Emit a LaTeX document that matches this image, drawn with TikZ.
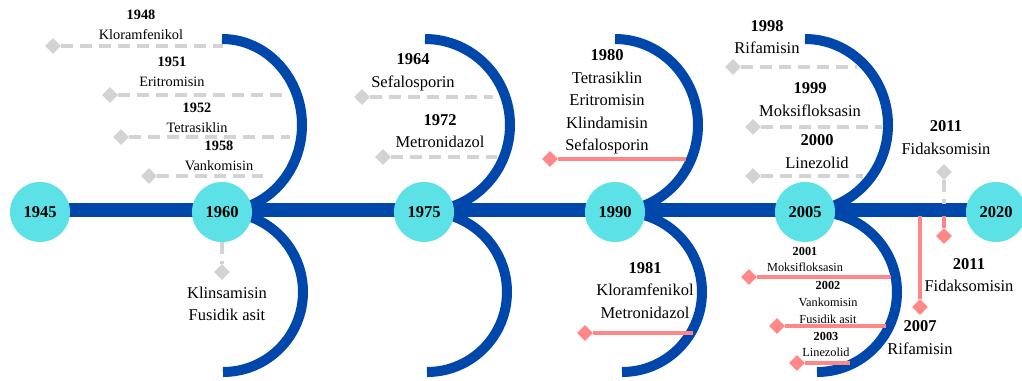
\documentclass[tikz,border=0pt]{standalone}
\usepackage{fontspec}
\setmainfont{Liberation Serif}
\usetikzlibrary{shapes.geometric}
\pgfdeclarelayer{background}
\pgfsetlayers{background,main}

\definecolor{tlblue}{HTML}{0047AB}
\definecolor{tlcyan}{HTML}{5CE1E6}
\definecolor{tlred}{HTML}{FF8787}
\definecolor{tlgray}{HTML}{D3D3D3}

\tikzset{
  yearnode/.style={circle, fill=tlcyan, minimum size=60pt, inner sep=0pt,
    font=\fontsize{16.5}{20}\selectfont\bfseries},
  lbl/.style={align=center, inner sep=0pt, font=\fontsize{16.5}{22.5}\selectfont},
  lblsm/.style={align=center, inner sep=0pt, font=\fontsize{14.3}{20}\selectfont},
  lblxs/.style={align=center, inner sep=0pt, font=\fontsize{12.3}{16.7}\selectfont},
  gdot/.style={diamond, fill=tlgray, minimum size=16pt, inner sep=0pt},
  rdot/.style={diamond, fill=tlred, minimum size=16pt, inner sep=0pt},
  gline/.style={draw=tlgray, line width=4pt, dash pattern=on 12pt off 7pt},
  rline/.style={draw=tlred, line width=3.5pt},
  arcline/.style={draw=tlblue, line width=10pt},
  axisline/.style={draw=tlblue, line width=14pt},
}

\begin{document}
\begin{tikzpicture}[x=1pt, y=-1pt]
\useasboundingbox (0,0) rectangle (1022,380);

% year circles on the axis
\node[yearnode] (c1945) at (40,212) {1945};
\node[yearnode] (c1960) at (222,212) {1960};
\node[yearnode] (c1975) at (424,212) {1975};
\node[yearnode] (c1990) at (615,212) {1990};
\node[yearnode] (c2005) at (805,212) {2005};
\node[yearnode] (c2020) at (996,212) {2020};

% axis and half-circle brackets behind the circles
\begin{pgfonlayer}{background}
  \draw[axisline] (40,210) -- (996,210);
  % upper brackets
  \draw[arcline] (222,39) arc[start angle=-90, end angle=90, x radius=80, y radius=86];
  \draw[arcline] (425,39) arc[start angle=-90, end angle=90, x radius=85, y radius=86];
  \draw[arcline] (615,39) arc[start angle=-90, end angle=90, x radius=83, y radius=86];
  \draw[arcline] (805,39) arc[start angle=-90, end angle=90, x radius=83, y radius=86];
  % lower brackets
  \draw[arcline] (223,212) arc[start angle=-90, end angle=90, radius=80];
  \draw[arcline] (427,212) arc[start angle=-90, end angle=90, radius=80];
  \draw[arcline] (622,212) arc[start angle=-90, end angle=90, radius=80];
  \draw[arcline] (817,212) arc[start angle=-90, end angle=90, radius=80];
\end{pgfonlayer}

% ---- 1945-1960 ----
\node[lblsm] (t1948) at (141,25) {\textbf{1948}\\Kloramfenikol};
\node[lblsm] (t1951) at (172,72) {\textbf{1951}\\Eritromisin};
\node[lblsm] (t1952) at (197,118) {\textbf{1952}\\Tetrasiklin};
\node[lblsm] (t1958) at (219,156) {\textbf{1958}\\Vankomisin};
\node[gdot] (d1948) at (53,46) {};
\node[gdot] (d1951) at (110,95) {};
\node[gdot] (d1952) at (121,137) {};
\node[gdot] (d1958) at (149,176) {};
\coordinate (e1948) at (223,46);
\coordinate (e1951) at (283,95);
\coordinate (e1952) at (290,137);
\coordinate (e1958) at (263,176);
\draw[gline] (d1948) -- (e1948);
\draw[gline] (d1951) -- (e1951);
\draw[gline] (d1952) -- (e1952);
\draw[gline] (d1958) -- (e1958);

\node[gdot] (d1960) at (222,272) {};
\draw[gline] (c1960) -- (d1960);
\node[lbl] (t1960) at (227,304) {Klinsamisin\\Fusidik asit};

% ---- 1960-1975 ----
\node[lbl] (t1964) at (413,72.5) {\textbf{1964}\\Sefalosporin};
\node[lbl] (t1972) at (440,131) {\textbf{1972}\\Metronidazol};
\node[gdot] (d1964) at (362,97) {};
\node[gdot] (d1972) at (383,157) {};
\coordinate (e1964) at (493,97);
\coordinate (e1972) at (497,157);
\draw[gline] (d1964) -- (e1964);
\draw[gline] (d1972) -- (e1972);

% ---- 1975-1990 ----
\node[lbl] (t1980) at (607,102) {\textbf{1980}\\Tetrasiklin\\Eritromisin\\Klindamisin\\Sefalosporin};
\node[rdot] (d1980) at (550,159) {};
\coordinate (e1980) at (686,159);
\draw[rline] (d1980) -- (e1980);

\node[lbl] (t1981) at (645,290.5) {\textbf{1981}\\Kloramfenikol\\Metronidazol};
\node[rdot] (d1981) at (585,333) {};
\coordinate (e1981) at (693,333);
\draw[rline] (d1981) -- (e1981);

% ---- 1990-2005 ----
\node[lbl] (t1998) at (767,37) {\textbf{1998}\\Rifamisin};
\node[lbl] (t1999) at (810,99.5) {\textbf{1999}\\Moksifloksasin};
\node[lbl] (t2000) at (817,151.5) {\textbf{2000}\\Linezolid};
\node[gdot] (d1998) at (733,67) {};
\node[gdot] (d1999) at (753,127) {};
\node[gdot] (d2000) at (753,176) {};
\coordinate (e1998) at (857,67);
\coordinate (e1999) at (882,127);
\coordinate (e2000) at (863,176);
\draw[gline] (d1998) -- (e1998);
\draw[gline] (d1999) -- (e1999);
\draw[gline] (d2000) -- (e2000);

\node[lblxs] (t2001) at (805,259.5) {\textbf{2001}\\Moksifloksasin};
\node[lblxs] (t2002) at (828,302.5) {\textbf{2002}\\Vankomisin\\Fusidik asit};
\node[lblxs] (t2003) at (826,344.5) {\textbf{2003}\\Linezolid};
\node[rdot] (d2001) at (749,277) {};
\node[rdot] (d2002) at (777,326) {};
\node[rdot] (d2003) at (797,363) {};
\coordinate (e2001) at (891,277);
\coordinate (e2002) at (886,326);
\coordinate (e2003) at (850,363);
\draw[rline] (d2001) -- (e2001);
\draw[rline] (d2002) -- (e2002);
\draw[rline] (d2003) -- (e2003);

% ---- 2005-2020 ----
\node[lbl] (t2011a) at (946,137.5) {\textbf{2011}\\Fidaksomisin};
\node[gdot] (d2011a) at (944,172) {};
\coordinate (e2011a) at (944,204);
\draw[gline] (d2011a) -- (e2011a);

\node[rdot] (d2011b) at (944,236) {};
\coordinate (s2011b) at (944,216);
\draw[rline] (s2011b) -- (d2011b);
\node[lbl] (t2011b) at (969,275) {\textbf{2011}\\Fidaksomisin};

\node[rdot] (d2007) at (920,307) {};
\coordinate (s2007) at (920,216);
\draw[rline] (s2007) -- (d2007);
\node[lbl] (t2007) at (920,337.5) {\textbf{2007}\\Rifamisin};
\end{tikzpicture}
\end{document}
